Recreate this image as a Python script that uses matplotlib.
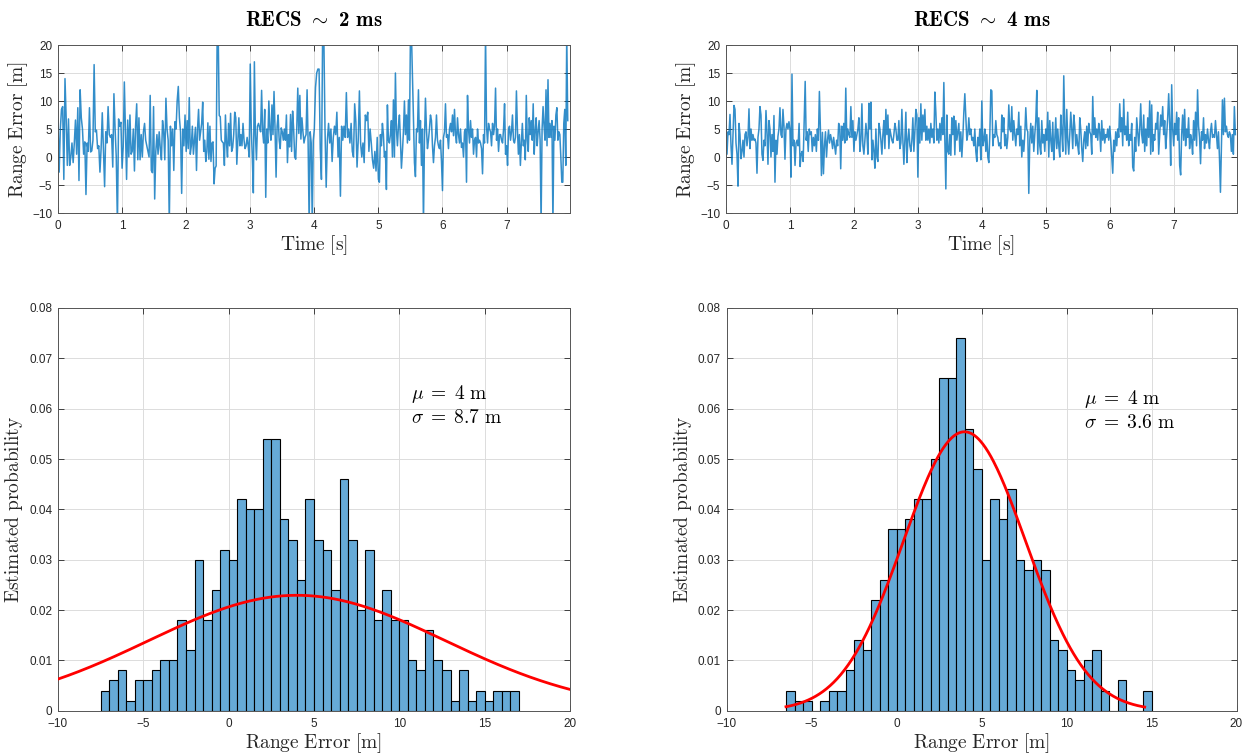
import numpy as np
import matplotlib
matplotlib.use("Agg")
import matplotlib.pyplot as plt

# range error time series, one list per second of data
err_2ms = [
    [6.7, -2.7, 5, 8.5, 9, -4, 14, 7, -1.5, 6.8, -1.5, 0, 2.5, -1, 2.5, 6.6, 0.5, 8.8, -4.2, 12,
     7, 5, 0.5, 2.7, -6.7, 2.5, 1, 8.8, 0.9, 1.1, 3, 16.5, 4.5, 4.8, 1.5, 2, -2.7, 1.5, 7.9, 1,
     -5.3, 4.5, 2.5, 9, 4, 3.5, 4, -1.8, 11.3, 5, 0, -12, 6.8, 5.5, 6.2],
    [-2, 1.8, 13.4, 5, -4, 6.6, 0, 7.5, 0.5, 1, 5, -2.5, 5.5, 9.5, -0.5, 7, -0.5, 4, 0, 4.5,
     6, 3, 2, 1, 0, 11, -2.4, -2.8, 9, -7.5, 1, 4, 0.5, 4.5, 1.5, -0.5, 6.5, 4.5, -0.5, 10.5,
     5, 3, -12, 5.5, 2, 5, -2.4, 6.3, 5, 10, 12.6, 7, 4.5, -6.5, 5, 2, 7.5],
    [1, 6.5, 1.5, 10.6, 0.5, 2, 5.5, 0.5, 3, 5.3, -2.4, 5, 8.5, 3, 4.5, 6, 9.8, 1, 3, -0.8,
     1, 6.1, -0.4, 5.5, -0.8, 2.5, 2.7, -4.8, -2, -1.6, 22, 22, 7.4, 7.2, 3, 2.7, 2.5, -1.5, 7.5, 2.5,
     0, 6, 2, 7.8, 1, 1.7, 4, 8, 7, -1.3, 3, 7, 2, 4, 2, 6, 3, 1.5, 2, 3.5, 2, 0],
    [16.6, 5, 0, -6.4, 17, 4, -0.5, 5.5, 6, 5.3, 4.5, 11.9, 4.5, 2.5, 8.5, -7.2, 5, 2.5, 10, 5,
     3, 9.3, 4, 11.7, 5, -3.6, 5.5, 7.5, 3, 1.5, 5.2, 4.5, 3, 5, 3, 7.5, -1, 4, 1.8, 7.6,
     1, 8.2, 5, 0, -0.4, 5, 12.3, 4.2, 11, 3.2, 7, 4.5, 2.5, 3.5, 4, 12, 2.5, -12, 4.5, 2.5,
     -12, 3],
    [5, 12.4, 15, 15.7, 15.7, 1.5, -4, 22, 22, 5, -5.4, 3, 6, 2.5, 5, -0.8, 3.5, 5.5, 4, 8,
     0, 3.5, -7, 5.5, 3, 5.5, 3.5, 11.5, 3.5, 5, 2.5, 6, 1, 0, 9.5, 6.3, -1.8, 3, 11.8, 2.5,
     0, 2.5, -1, 7.5, 6.5, 8, 1, 5, 2.5, -0.5, -2, 1, -2.5, 3.5],
    [-4, -4.5, 4, 2, 6, 4, 0, 1, -5.8, 9.3, 3, 2.5, 4, 6.5, 0, 10.2, 0, 15, 5, 2,
     5.5, 7.5, 3, -2, 1, 4.5, 10, 4, 7.5, 2.5, 10.2, 3, 22, 22, 14.8, 7, -1, -3.5, 5, 4.5,
     12, 2.5, 6.5, -1.5, 5, -12, 3, 10.5, 5, 1.5, 3, 5, 7.5, 6.5, 2, -1, 2, 3.5, 7.5, 3,
     2, 1.5, 3, -0.8],
    [-6, 3.5, 4.5, 9.5, 3.5, 4, 1.5, 5, 6, 4.5, 7.5, 3.8, 8.5, 4, 2.5, 7, 4, 2.5, 5, 1.7,
     2.5, 0, 4.5, 5, -4.5, 11, 5, 2.5, 6.5, 3.5, 5, 0.5, 3, 3.5, 0, 5, 2.5, 3, 2.5, 1.5,
     -3, 4, 2.5, 22, 5.5, 2.5, 6, 5, 4.5, 2, 6, 4, 5.5, 12.3, 3, 5, 1, 4, 4, 3,
     2.5, 5, 9.5, 0.5],
    [2, -1.5, 5, 5.5, 3, 4.5, 7.5, 3, 2.5, 3.5, 11.8, 5, 0.5, 4, -1.5, 2.5, 6, 2, 3, -0.5,
     11, 3, 1, 7, 4, 6.5, 3, 9.5, 0.5, 4.5, 7, 2, 4.5, 6.5, 3, -12, 5, 9, 5.5, 3,
     12, 2, 13.8, 3.5, 6, 3.5, 6.5, -12, 5.5, 3, 7.5, 8.8, 3, 4.5, 4, 0, -4.5, -4.5, 6, 8.5,
     -1.5, 22, 6.5],
]

err_4ms = [
    [5.5, 0.5, 4.5, 4, 7.6, 2, -1.3, 4, 9.2, 8.5, 2.5, 0.5, -5.2, 6, 4, -0.3, 1, 3, 0, 4,
     4.5, 2, 3.5, 8.6, 1.5, 5, 3, 4, 3, 3.2, 2.5, -2.9, 3.5, 5, 9, 7.5, 0.5, -0.6, 3, 2,
     8.3, 4.5, -1.3, 6.5, 5, 0, 4, 1, 7.4, -4.5, 3, 0.5, 3.7, 5, 8.8, 4, 3.5, 8.5, 5.5, -0.4,
     5, 6, 5, 6.3],
    [5, -3.6, 14.8, 2, 3, -1.5, 2.5, 3, 2, 6, -1.7, 0.5, 1, -0.8, 6, 13.5, 3, 4.5, 1, 5,
     4, 4.5, 1, 3.5, 2, 4, 1, 5, 3, 11.7, 5, -3.3, 4.4, -3, 2, 4.5, 0, 3, 4.8, 2.5,
     4, 3, 1.5, 3.5, 2, 0.5, 3, 2, 6, 5.5, -2.1, 5.5, 3, 6, 2.5, 12.3, 3, 5, 4, 3.5,
     9, 3.5, 6.5],
    [1, 4.5, 3, 4, 5, 7, 1, 3, 9.5, 2, 0.5, 3, 6, 4, 0.5, 9.6, 5, 9.8, -0.5, 3,
     1, -2, 5, 0, -0.8, 6, 5, 3, 0.5, 4, 6.5, 1.5, 8.5, 4, 7.5, 1.5, 5, 4, 3, 2.5,
     4, 6, 5, 3, 3, 6.5, 1.5, 2.5, 8.5, 3, -1.3, 3, 8, -1, 3, 5, 2, 1, 3, 7,
     1, 4.5, 8.5, 7.5],
    [-3.6, 7, 2.5, 9.5, 3, 7.5, 4.5, 8.5, 3, 5.5, 3, 5, 2.5, 6, 3.5, 5, 2.5, 11.6, 8, 3,
     5, 2.5, 6, 3, 7, 4, 13.3, 3, -5.7, 7.5, 1, 0.5, 4, 0.3, 7, 4, 7.3, 0.4, 6.5, 3,
     4.5, 6, 1, 4.5, 0, 3.5, 8, 11.3, 7, 3, 4, 7, 4, 5, 3, 3.5, 2, 5, 1, -0.8,
     3.5, 2, 5, -0.5],
    [10, 2, 3, 5, 1, 4, 0, -1, 4, 12, 11.8, 2, 4, 3.5, 6.5, 4, 3.5, 2, 2.5, 1.5,
     7.5, 4.5, 7, 2, 4, 1.5, 3.5, 9.3, 5, 4.5, 9, 3, 6.5, 4, 2, 5, 4, 8, 2, 5.5,
     0, 3, 1, 4, 8.8, 5, 4.5, -6.5, 3, 6, 2.5, 5.5, 1, 4, 6.5, 11.9, 0.5, 7, 2, 0.5,
     6.5, 2.5, 4, 1],
    [5, 3, 8, 0, 6.5, 3, 1, 6.2, -0.5, 3, 7, 1.5, 5, 2, 0, 7.5, 4.5, 1, 14.5, 5.5,
     0.5, 8.5, 3, 0.5, 4, 8, 5, 1.5, 7.5, 5.5, 2, 4, 2, 0.5, 7, 5, 1.5, -0.8, 3, 4.5,
     1.5, 5.5, 2, 6, 4.5, 4, 0.5, 10.8, 4, 7, 3.5, 5, 3, 6, 4.5, 1, 6.5, 3, 5, 2.5,
     4, 3.5, 5, 3],
    [5.5, 3, 0, -2.9, 3, 1, 4.5, 2, 5, 3.5, 9.5, 4.5, 7, 2, 10.3, 4, 5.5, 3, 8, 2,
     4, 3, 6, -1.8, -2.5, 3.5, 1, 7, 4.5, 2, 5, 9.5, 4, 2.5, 7.5, 1, 5, 2, 7, 3.5,
     10, 0.5, 9.3, 1, 4, 3, 6, 5, 8, 0.5, 4, 7.5, 5.5, 9, 4, 6.5, 1.5, 4, 7, 11.3,
     6, -1.5, 12.9, 5],
    [2, 6, 4, 8, 3, 7, -1.5, -3.2, 4, 7.5, 3, 8.5, 2, 5, 3.5, 7, 1.5, 4, 3, 0.5,
     6.5, 3, 8, 2, 12, 5.5, 3.5, -1.2, 4.5, 3, 7, 1.5, 4, 2.5, 5, 3, 1.5, 4.5, 6, 3.5,
     4, 3.5, 6.5, 4, 1.5, 4.5, 0, -6.3, 2, 10.2, 4, 10.5, 4.5, 5.5, 4, 3.5, 4.5, 4, 1, 4,
     0.5, 9, 4],
]
t_last = [7.97, 7.98]

# histogram (estimated probability per 0.5 m bin)
bin_width = 0.5
bin_start_2ms = -7.5
prob_2ms = [0.004, 0.006, 0.008, 0.002, 0.006, 0.006, 0.008, 0.010, 0.010, 0.018,
            0.012, 0.030, 0.018, 0.024, 0.032, 0.030, 0.042, 0.040, 0.040, 0.054,
            0.054, 0.038, 0.034, 0.026, 0.042, 0.034, 0.032, 0.024, 0.046, 0.034,
            0.020, 0.032, 0.018, 0.024, 0.018, 0.018, 0.010, 0.008, 0.016, 0.010,
            0.008, 0.002, 0.008, 0.002, 0.004, 0.002, 0.004, 0.004, 0.004]
bin_start_4ms = -6.5
prob_4ms = [0.004, 0.002, 0.002, 0.0, 0.002, 0.004, 0.004, 0.008, 0.014, 0.012,
            0.022, 0.026, 0.036, 0.036, 0.038, 0.042, 0.042, 0.050, 0.066, 0.066,
            0.074, 0.056, 0.048, 0.030, 0.042, 0.038, 0.044, 0.030, 0.028, 0.030,
            0.028, 0.014, 0.012, 0.008, 0.006, 0.010, 0.012, 0.004, 0.0, 0.006,
            0.0, 0.0, 0.004]

mu = [4, 4]
sigma = [8.7, 3.6]
fit_range = [(-10, 20), (-6.5, 14.6)]
recs = ["2 ms", "4 ms"]

plt.rcParams["mathtext.fontset"] = "cm"
plt.rcParams["font.family"] = ["Liberation Sans", "DejaVu Sans"]

BLUE = "#0072BD"
INK = "#262626"

fig = plt.figure(figsize=(12.49, 7.54), dpi=100)
W, H = 1249, 754


def axes_px(x0, y0, x1, y1):
    return fig.add_axes([x0 / W, 1 - y1 / H, (x1 - x0) / W, (y1 - y0) / H])


def style(ax):
    ax.grid(True, color="#dcdcdc", lw=0.7)
    ax.set_axisbelow(True)
    ax.tick_params(direction="in", top=True, right=True, length=4, width=0.6,
                   colors=INK, labelsize=8.5)
    ax.tick_params(axis="x", pad=5)
    ax.tick_params(axis="y", pad=4)
    for s in ax.spines.values():
        s.set_color("#555555")
        s.set_linewidth(0.7)


top_axes = [axes_px(58, 45, 570, 213), axes_px(726, 45, 1237, 213)]
bot_axes = [axes_px(58, 308, 570, 710.7), axes_px(726.5, 308, 1236.5, 710.7)]

series = [err_2ms, err_4ms]
for k, ax in enumerate(top_axes):
    t, y = [], []
    for sec, chunk in enumerate(series[k]):
        end = sec + 1 if sec < len(series[k]) - 1 else t_last[k]
        t.extend(np.linspace(sec, end, len(chunk), endpoint=False))
        y.extend(chunk)
    ax.plot(t, y, color=BLUE, lw=1.1, alpha=0.8)
    ax.set_xlim(0, 7.99)
    ax.set_ylim(-10, 20)
    ax.set_xticks(range(0, 8))
    ax.set_yticks(range(-10, 21, 5))
    style(ax)
    ax.set_xlabel(r"$\mathrm{Time\ [s]}$", fontsize=14, color=INK, labelpad=1)
    ax.set_ylabel(r"$\mathrm{Range\ Error\ [m]}$", fontsize=14, color=INK, labelpad=2)
    ax.set_title("RECS " + r"$\sim$" + " " + recs[k], fontfamily="cmb10",
                 fontsize=15, pad=14)

hists = [(bin_start_2ms, prob_2ms), (bin_start_4ms, prob_4ms)]
text_pos = [(10.7, 0.0608), (11.0, 0.0598)]
for k, ax in enumerate(bot_axes):
    start, probs = hists[k]
    left = start + bin_width * np.arange(len(probs))
    ax.bar(left, probs, width=bin_width, align="edge", color="#66AAD7",
           edgecolor="black", linewidth=0.8, zorder=2)
    x = np.linspace(fit_range[k][0], fit_range[k][1], 400)
    pdf = np.exp(-0.5 * ((x - mu[k]) / sigma[k]) ** 2) / (sigma[k] * np.sqrt(2 * np.pi))
    ax.plot(x, pdf * bin_width, color="red", lw=2.0, zorder=3)
    ax.set_xlim(-10, 20)
    ax.set_ylim(0, 0.08)
    ax.set_xticks(range(-10, 21, 5))
    ax.set_yticks(np.arange(0, 0.081, 0.01))
    ax.set_yticklabels(["0"] + ["%.2f" % v for v in np.arange(0.01, 0.081, 0.01)])
    style(ax)
    ax.set_xlabel(r"$\mathrm{Range\ Error\ [m]}$", fontsize=14, color=INK, labelpad=1)
    ax.set_ylabel(r"$\mathrm{Estimated\ probability}$", fontsize=14, color=INK, labelpad=3)
    ax.text(text_pos[k][0], text_pos[k][1],
            r"$\mu\;=\;%g\ \mathrm{m}$" % mu[k] + "\n" + r"$\sigma\;=\;%g\ \mathrm{m}$" % sigma[k],
            fontsize=14, va="center", ha="left", linespacing=1.3)

fig.savefig("out.png", dpi=100)
